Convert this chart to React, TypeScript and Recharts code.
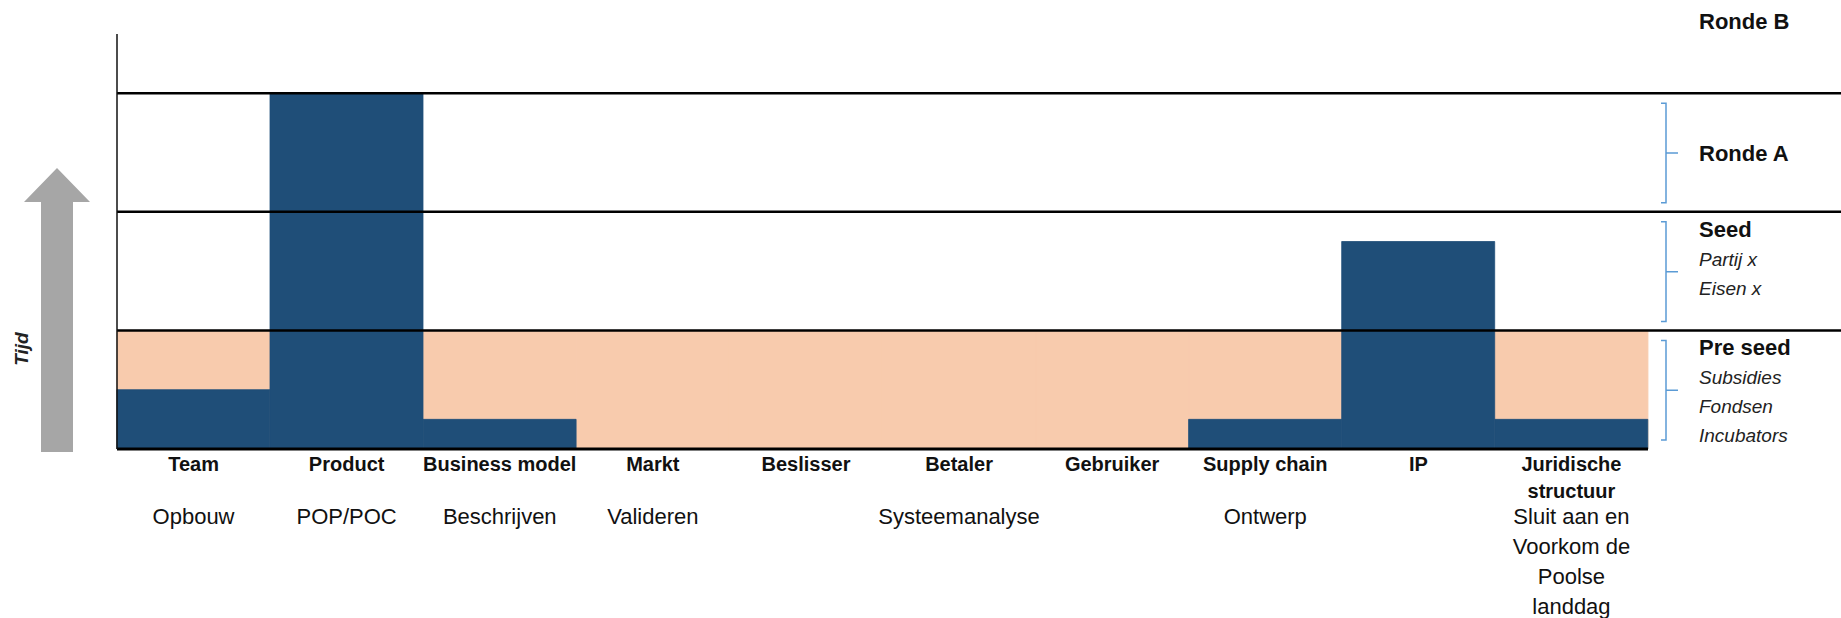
import React from "react";
import { BarChart, Bar, XAxis, YAxis, ReferenceLine } from "recharts";

// categories along the x axis, and the phase text written under them
const CATEGORIES = [
  "Team", "Product", "Business model", "Markt", "Beslisser",
  "Betaler", "Gebruiker", "Supply chain", "IP", "Juridische structuur",
];
const PHASES = [
  "Opbouw", "POP/POC", "Beschrijven", "Valideren", "",
  "Systeemanalyse", "", "Ontwerp", "", "Sluit aan en\nVoorkom de\nPoolse\nlanddag",
];
// progress per category (in funding-round units) and the pre seed band
const PROGRESS = [1.5, 9, 0.75, 0, 0, 0, 0, 0.75, 5.25, 0.75];
const PRE_SEED = [3, 3, 3, 3, 3, 3, 3, 3, 3, 3];
const ROUND_LINES = [3, 6, 9];
const Y_MAX = 10.5;

const ROUNDS = [
  { title: "Pre seed", items: ["Subsidies", "Fondsen", "Incubators"], from: 0, to: 3 },
  { title: "Seed", items: ["Partij x", "Eisen x"], from: 3, to: 6 },
  { title: "Ronde A", items: [] as string[], from: 6, to: 9 },
];

const W = 1841;
const H = 618;
const Y_AXIS_W = 10;
const M = { top: 34, right: 193, bottom: 0, left: 117 - Y_AXIS_W };
const AXIS_H = 169;
const FONT = "'Liberation Sans', Arial, sans-serif";
const NAVY = "#1f4e78";
const PEACH = "#f8cbad";
const BRACE = "#5b9bd5";

const data = CATEGORIES.map((name, i) => ({
  name,
  progress: PROGRESS[i],
  preSeed: PRE_SEED[i],
}));

const plotBottom = H - AXIS_H;
const yOf = (v: number) => plotBottom - (v / Y_MAX) * (plotBottom - M.top);

const CategoryTick = (props: any) => {
  const { x, y, payload } = props;
  const name: string = payload.value;
  const idx = CATEGORIES.indexOf(name);
  const sp = name.indexOf(" ");
  const nameLines = name.length > 15 ? [name.slice(0, sp), name.slice(sp + 1)] : [name];
  const phase = PHASES[idx] ? PHASES[idx].split("\n") : [];
  return (
    <g fontFamily={FONT}>
      {nameLines.map((l, i) => (
        <text key={"n" + i} x={x} y={y + 22 + i * 27} textAnchor="middle"
              fontWeight="bold" fontSize={20} fill="#111">{l}</text>
      ))}
      {phase.map((l, i) => (
        <text key={"p" + i} x={x} y={y + 75 + i * 30} textAnchor="middle"
              fontSize={22} fill="#111">{l}</text>
      ))}
    </g>
  );
};

// round lines run past the plot to the right edge
const LongLine = (props: any) => (
  <line x1={props.x1} y1={props.y1} x2={W} y2={props.y2} stroke="#000" strokeWidth={2.5} />
);

export default function App() {
  const bx = 1666;
  return (
    <div style={{ position: "relative", width: W, height: H, background: "#fff" }}>
      <style>{"body{margin:0}"}</style>
      <BarChart width={W} height={H} data={data} margin={M}
                barCategoryGap={0} barGap="-100%">
        <XAxis dataKey="name" interval={0} height={AXIS_H} tickLine={false}
               tickSize={0} tickMargin={0}
               axisLine={{ stroke: "#000", strokeWidth: 3 }}
               tick={<CategoryTick />} />
        <YAxis width={Y_AXIS_W} domain={[0, Y_MAX]} tick={false} tickLine={false}
               axisLine={{ stroke: "#111", strokeWidth: 1.5 }} />
        <Bar dataKey="preSeed" fill={PEACH} stroke={PEACH} strokeWidth={1}
             isAnimationActive={false} />
        <Bar dataKey="progress" fill={NAVY} stroke={NAVY} strokeWidth={0.8}
             isAnimationActive={false} />
        {ROUND_LINES.map((v) => (
          <ReferenceLine key={v} y={v} ifOverflow="visible" shape={<LongLine />} />
        ))}
      </BarChart>

      <svg width={W} height={H} style={{ position: "absolute", left: 0, top: 0, pointerEvents: "none" }}>
        {/* time arrow */}
        <polygon points="57,168 90,202 73,202 73,452 41,452 41,202 24,202" fill="#a6a6a6" />
        <text x={21} y={349} transform="rotate(-90 21 349)" textAnchor="middle" dominantBaseline="central"
              fontFamily={FONT} fontStyle="italic" fontWeight="bold" fontSize={19} fill="#222">Tijd</text>

        <text x={1699} y={yOf(9) - 64} fontFamily={FONT} fontWeight="bold" fontSize={22} fill="#111">Ronde B</text>

        {ROUNDS.map((r) => {
          const top = yOf(r.to);
          const bot = yOf(r.from);
          const t = top + 10;
          const b = bot - 9;
          const mid = (t + b) / 2;
          const titleY = r.items.length ? top + 25 : mid + 8;
          return (
            <g key={r.title} fontFamily={FONT}>
              <path d={`M${bx - 5},${t} H${bx} V${b} H${bx - 5} M${bx},${mid} H${bx + 12}`}
                    fill="none" stroke={BRACE} strokeWidth={1.5} />
              <text x={1699} y={titleY} fontWeight="bold" fontSize={22} fill="#111">{r.title}</text>
              {r.items.map((it, i) => (
                <text key={it} x={1699} y={titleY + 29 * (i + 1)} fontStyle="italic" fontSize={19} fill="#222">{it}</text>
              ))}
            </g>
          );
        })}
      </svg>
    </div>
  );
}
